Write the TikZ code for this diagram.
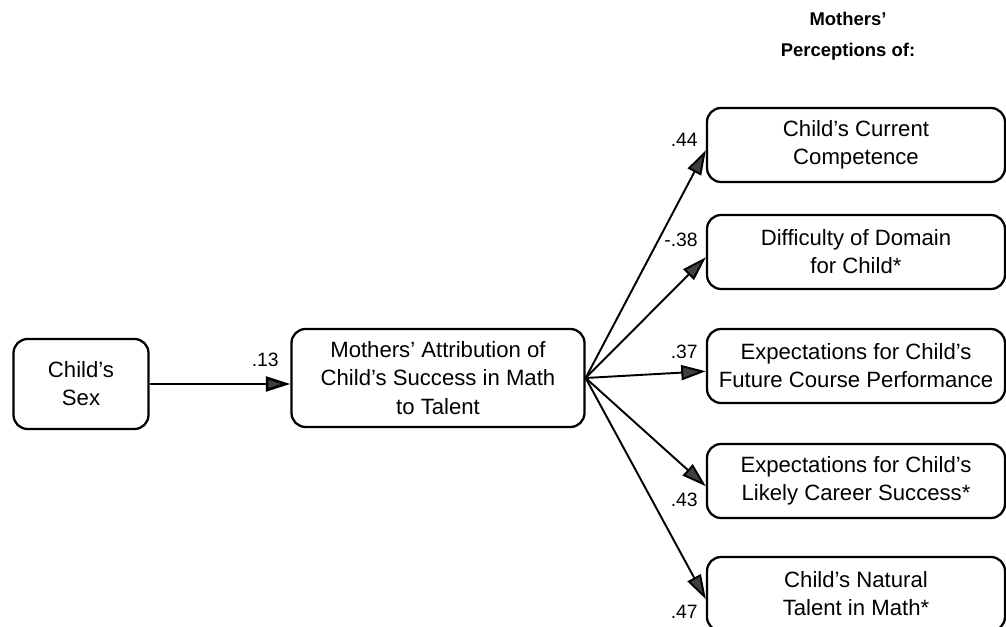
\documentclass[tikz,border=0pt]{standalone}
\usepackage{fontspec}
\setmainfont{Liberation Sans}
\usetikzlibrary{arrows.meta}

\begin{document}
\begin{tikzpicture}[
		varbox/.style={draw, line width=1.3pt, rounded corners=8pt, align=center,
			font=\fontsize{12.6}{16}\selectfont, inner sep=0pt},
		outbox/.style={varbox, minimum width=5.96cm, minimum height=1.48cm},
		coef/.style={anchor=east, inner sep=0pt, font=\fontsize{11}{13}\selectfont},
		path/.style={-{Triangle[length=14pt,width=8.5pt,fill=black!75]}, line width=1.1pt},
	]
	\useasboundingbox (0,0) rectangle (20.12,12.54);

	\node[align=center, font=\fontsize{10.5}{17.6}\selectfont\bfseries] (head) at (16.96,11.82) {Mothers'\\Perceptions of:};

	% predictor and mediator
	\node[varbox, minimum width=2.70cm, minimum height=1.80cm] (sex) at (1.62,4.86) {Child's\\Sex};
	\node[varbox, minimum width=5.86cm, minimum height=1.96cm] (attr) at (8.76,4.98) {Mothers' Attribution of\\Child's Success in Math\\to Talent};

	% outcomes
	\node[outbox] (comp) at (17.12,9.64) {Child's Current\\Competence};
	\node[outbox] (diff) at (17.12,7.50) {Difficulty of Domain\\for Child*};
	\node[outbox] (course) at (17.12,5.22) {Expectations for Child's\\Future Course Performance};
	\node[outbox] (career) at (17.12,2.92) {Expectations for Child's\\Likely Career Success*};
	\node[outbox] (talent) at (17.12,0.66) {Child's Natural\\Talent in Math*};

	\draw[path, line width=1.5pt] (sex.east) -- (sex.east -| attr.west);
	\node[coef] (c13) at (5.58,5.34) {.13};

	\foreach \t in {comp,diff,course,career,talent}
	{
		\draw[path] (attr.east) -- ([yshift=-3pt]\t.west);
	}

	\node[coef] (c44) at (13.96,9.74) {.44};
	\node[coef] (c38) at (13.96,7.74) {-.38};
	\node[coef] (c37) at (13.96,5.50) {.37};
	\node[coef] (c43) at (13.96,2.54) {.43};
	\node[coef] (c47) at (13.96,0.30) {.47};
\end{tikzpicture}
\end{document}
